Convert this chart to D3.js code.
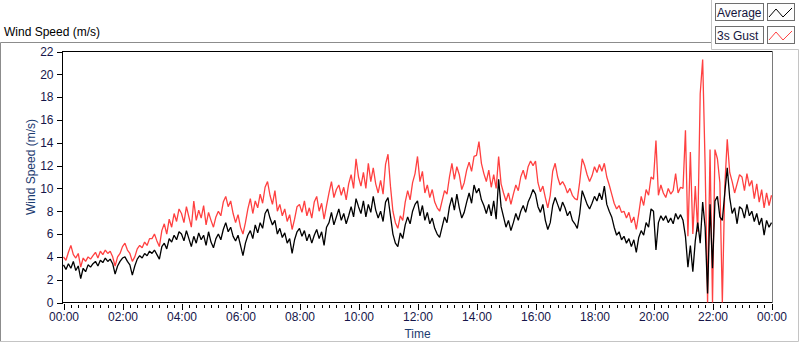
<!DOCTYPE html>
<html>
<head>
<meta charset="utf-8">
<script src="https://cdn.jsdelivr.net/npm/d3@7"></script>
<style>
	body { margin: 0; background: #fff; }
	text { font-family: "Liberation Sans", Arial, sans-serif; font-size: 12px; }
</style>
</head>
<body>
<svg id="chart" width="800" height="342"></svg>
<script>

// one reading every 5 minutes, 00:00 .. 24:00
var stepMinutes = 5;

var avgSpeed = [
	3.3, 2.9, 3.4, 3.0, 3.6, 2.8, 3.2, 2.1, 3.0, 2.7, 3.3, 3.1,
	3.4, 3.6, 3.2, 3.7, 3.5, 3.9, 3.6, 3.8, 3.4, 2.5, 3.2, 3.6,
	3.9, 4.0, 3.6, 3.3, 2.4, 3.2, 3.8, 4.1, 3.9, 4.3, 4.1, 4.5,
	4.3, 4.6, 4.2, 3.8, 4.9, 5.2, 4.7, 5.6, 5.3, 5.9, 5.5, 6.2,
	6.0, 5.4, 6.3, 5.6, 4.9, 5.8, 5.2, 6.1, 5.5, 5.9, 5.0, 6.2,
	5.3, 4.8, 5.6, 6.0, 5.5, 6.4, 7.0, 6.2, 6.6, 5.8, 5.4, 5.9,
	5.0, 4.1, 5.2, 5.9, 6.3, 5.6, 6.8, 6.1, 7.0, 6.5, 7.8, 8.2,
	7.4, 6.8, 7.2, 6.0, 6.5, 5.7, 6.1, 5.2, 5.6, 4.3, 5.5, 6.2,
	6.5, 5.8, 6.3, 5.4, 6.0, 5.2, 5.9, 6.4, 5.6, 6.2, 5.0, 6.6,
	7.0, 7.9, 6.8, 7.5, 8.2, 7.2, 7.8, 6.9, 7.6, 8.4, 7.5, 9.1,
	8.4, 7.8, 8.9, 7.5, 8.6, 7.9, 9.3, 8.1, 7.4, 8.0, 7.1, 8.8,
	9.2, 7.6, 6.0, 5.2, 4.9, 6.1, 5.6, 6.8, 7.5, 6.9, 8.0, 8.6,
	8.9, 7.6, 8.5, 7.2, 7.9, 6.9, 7.4, 6.5, 6.0, 5.7, 6.6, 7.5,
	7.0, 8.4, 9.2, 8.1, 9.5, 8.3, 7.4, 7.9, 8.8, 9.6, 8.7, 10.3,
	9.6, 10.0, 9.0, 8.5, 7.8, 8.6, 7.6, 8.9, 7.3, 10.8, 8.4, 7.5,
	6.6, 7.2, 6.3, 7.0, 7.8, 7.2, 8.0, 8.5, 7.9, 8.8, 9.3, 9.9,
	9.5, 8.4, 7.9, 8.6, 7.2, 6.4, 7.0, 8.5, 9.2, 8.6, 8.0, 8.8,
	8.3, 7.6, 8.0, 7.2, 6.9, 6.5, 7.8, 9.8, 9.2, 8.6, 8.2, 8.7,
	9.3, 8.9, 9.6, 9.0, 10.2, 8.6, 8.0, 7.5, 6.6, 5.9, 6.2, 5.5,
	5.8, 5.2, 5.6, 4.9, 5.5, 4.4, 5.7, 6.3, 5.9, 7.0, 6.6, 8.2,
	8.0, 4.6, 7.0, 7.6, 7.2, 7.6, 7.0, 7.4, 6.9, 7.8, 7.3, 7.7,
	7.2, 5.8, 3.1, 5.0, 2.7, 5.4, 7.0, 5.2, 8.8, 6.6, 0.8, 8.6,
	3.0, 8.9, 9.3, 7.5, 7.2, 9.6, 11.8, 9.2, 7.8, 8.3, 6.9, 8.4,
	8.2, 7.4, 8.6, 7.6, 8.0, 7.1, 7.8, 6.8, 7.4, 5.9, 7.2, 6.6,
	7.0
];

var gustSpeed = [
	4.0, 3.7, 4.4, 5.0, 4.2, 3.9, 4.3, 3.1, 3.9, 3.6, 4.0, 3.8,
	4.1, 4.4, 3.9, 4.5, 4.2, 4.6, 4.3, 4.5, 4.0, 3.2, 4.0, 4.3,
	4.9, 5.2, 4.6, 4.3, 3.6, 4.0, 4.7, 5.0, 4.8, 5.3, 5.0, 5.6,
	5.6, 6.0, 5.4, 4.9, 6.3, 6.9, 6.0, 7.3, 6.6, 7.8, 7.1, 8.2,
	7.8, 7.0, 8.4, 7.5, 6.6, 8.9, 7.2, 8.1, 7.4, 8.5, 6.8, 7.9,
	7.2, 6.6, 7.5, 8.0, 7.6, 8.8, 9.3, 8.4, 8.9, 7.8, 7.0, 7.7,
	6.6, 6.0, 7.0, 8.2, 9.1, 7.8, 8.9, 8.3, 9.5, 8.7, 10.1, 10.6,
	9.4, 8.6, 9.8, 8.0, 8.6, 7.6, 8.2, 7.1, 7.7, 6.4, 7.3, 8.4,
	8.6, 7.9, 8.9, 7.6, 8.3, 7.4, 8.8, 9.3, 8.0, 8.7, 7.3, 8.5,
	9.6, 10.6, 9.2, 9.9, 10.3, 9.4, 10.1, 9.0, 10.4, 11.2, 10.0, 12.6,
	11.0, 10.2, 11.4, 10.0, 12.2, 10.6, 11.8, 10.4, 9.6, 10.7, 9.5, 12.1,
	13.0, 10.2, 8.0, 7.0, 6.5, 7.6, 7.2, 8.8, 9.8, 9.0, 10.5, 11.3,
	12.8, 10.6, 11.5, 9.6, 10.3, 9.2, 9.9, 8.8, 8.3, 8.0, 8.9, 9.8,
	9.5, 11.0, 12.2, 10.8, 11.9, 11.2, 9.9, 10.5, 11.6, 12.3, 11.5, 12.8,
	12.9, 14.1, 12.2, 11.3, 10.6, 11.6, 10.1, 11.2, 10.0, 12.8, 10.4, 9.6,
	8.9, 9.6, 8.6, 9.5, 10.3, 9.8, 11.0, 11.6, 10.8, 11.9, 12.4, 12.0,
	12.4, 10.5, 9.7, 10.2, 9.2, 8.3, 9.4, 11.5, 12.2, 11.0, 10.3, 10.6,
	10.2, 9.6, 10.0, 9.4, 9.1, 9.0, 10.6, 12.6, 12.0, 11.2, 10.6, 11.1,
	11.9, 11.4, 12.1, 11.5, 12.2, 11.0, 10.3, 9.5, 8.7, 8.2, 8.5, 7.9,
	8.0, 7.4, 7.9, 7.0, 7.5, 6.4, 7.8, 9.3, 8.5, 9.9, 9.4, 11.0,
	10.8, 14.2, 9.4, 10.3, 9.6, 9.2, 10.0, 9.5, 9.8, 11.3, 9.6, 10.1,
	10.0, 15.1, 5.8, 13.2, 6.0, 10.2, 6.2, 18.3, 21.3, 12.0, 0.0, 13.4,
	0.0, 13.4, 12.6, 10.5, 0.0, 10.2, 14.3, 11.4, 10.6, 9.6, 10.4, 11.2,
	11.0, 9.8, 11.3, 10.2, 10.7, 9.1, 10.4, 8.8, 9.9, 8.3, 9.6, 8.5,
	9.4
];

var seriesNames = ["Average", "3s Gust"];
var seriesColors = ["#000000", "#ff4040"];

var yTicks = [0, 2, 4, 6, 8, 10, 12, 14, 16, 18, 20, 22];
var xTickMinutes = [0, 120, 240, 360, 480, 600, 720, 840, 960, 1080, 1200, 1320, 1440];
var xTickLabels = ["00:00", "02:00", "04:00", "06:00", "08:00", "10:00", "12:00",
	"14:00", "16:00", "18:00", "20:00", "22:00", "00:00"];
var minorStep = 15;

var svg = d3.select("#chart");

var x = d3.scaleLinear().domain([0, 1440]).range([63.5, 771.5]);
var y = d3.scaleLinear().domain([0, 22]).range([302.5, 51.5]);

// outer panel and legend panel outline
svg.append("path")
	.attr("d", "M0.5,341.5 V42.5 H711.5")
	.attr("fill", "none").attr("stroke", "#8c8c8c");
svg.append("path")
	.attr("d", "M711.5,0 V49.5 H798.5 V341.5 H0.5")
	.attr("fill", "none").attr("stroke", "#c4c4c4");

// title
svg.append("text")
	.attr("x", 4).attr("y", 36)
	.attr("fill", "#000")
	.text("Wind Speed (m/s)");

// plot frame
svg.append("rect")
	.attr("x", 62.5).attr("y", 51.5)
	.attr("width", 710).attr("height", 251)
	.attr("fill", "#fff").attr("stroke", "#000")
	.attr("shape-rendering", "crispEdges");
svg.append("line")
	.attr("x1", 772.5).attr("x2", 772.5).attr("y1", 51).attr("y2", 303)
	.attr("stroke", "#7a7a7a").attr("shape-rendering", "crispEdges");

// series
var line = d3.line()
	.x(function (d, i) { return x(i * stepMinutes); })
	.y(function (d) { return y(d); });

[gustSpeed, avgSpeed].forEach(function (values, k) {
	svg.append("path")
		.datum(values)
		.attr("fill", "none")
		.attr("stroke", k == 0 ? seriesColors[1] : seriesColors[0])
		.attr("stroke-width", 1.3)
		.attr("stroke-linejoin", "bevel")
		.attr("d", line);
});

// y axis
var yAxis = svg.append("g")
	.attr("transform", "translate(62.5,0)")
	.call(d3.axisLeft(y).tickValues(yTicks).tickSize(6).tickPadding(3));
yAxis.select(".domain").remove();

// x axis: minor ticks then major ticks with labels
var minorTicks = d3.range(0, 1441, minorStep);
var xMinor = svg.append("g")
	.attr("transform", "translate(0,304.5)")
	.call(d3.axisBottom(x).tickValues(minorTicks).tickSize(3).tickFormat(""));
xMinor.select(".domain").remove();

var xAxis = svg.append("g")
	.attr("transform", "translate(0,303.5)")
	.call(d3.axisBottom(x).tickValues(xTickMinutes).tickSize(6).tickPadding(3)
		.tickFormat(function (d, i) { return xTickLabels[i]; }));
xAxis.select(".domain").remove();

svg.selectAll(".tick line").attr("stroke", "#000").attr("shape-rendering", "crispEdges");
svg.selectAll(".tick text")
	.attr("fill", "#16164a")
	.style("font-family", "'Liberation Sans', Arial, sans-serif")
	.style("font-size", "12px");

// axis titles
svg.append("text")
	.attr("x", 417.5).attr("y", 338)
	.attr("text-anchor", "middle")
	.attr("fill", "#1c3b70")
	.text("Time");

svg.append("text")
	.attr("transform", "translate(35,167) rotate(-90)")
	.attr("text-anchor", "middle")
	.attr("fill", "#1c3b70")
	.text("Wind Speed (m/s)");

// legend
var legend = svg.selectAll(".legendItem")
	.data(seriesNames)
	.enter().append("g")
	.attr("class", "legendItem")
	.attr("transform", function (d, i) { return "translate(0," + (i * 23) + ")"; });

legend.append("rect")
	.attr("x", 715.5).attr("y", 3.5)
	.attr("width", 48).attr("height", 17)
	.attr("fill", "#fdfdfd").attr("stroke", "#6e6e6e");

legend.append("text")
	.attr("x", 717).attr("y", 17)
	.attr("fill", "#14143c")
	.text(String);

legend.append("rect")
	.attr("x", 767.5).attr("y", 3.5)
	.attr("width", 27).attr("height", 17)
	.attr("fill", "#fdfdfd").attr("stroke", "#6e6e6e");

legend.append("path")
	.attr("d", "M769,17 L776,9 L783,17 L792,8")
	.attr("fill", "none")
	.attr("stroke", function (d, i) { return seriesColors[i]; })
	.attr("stroke-width", 1);

</script>
</body>
</html>
